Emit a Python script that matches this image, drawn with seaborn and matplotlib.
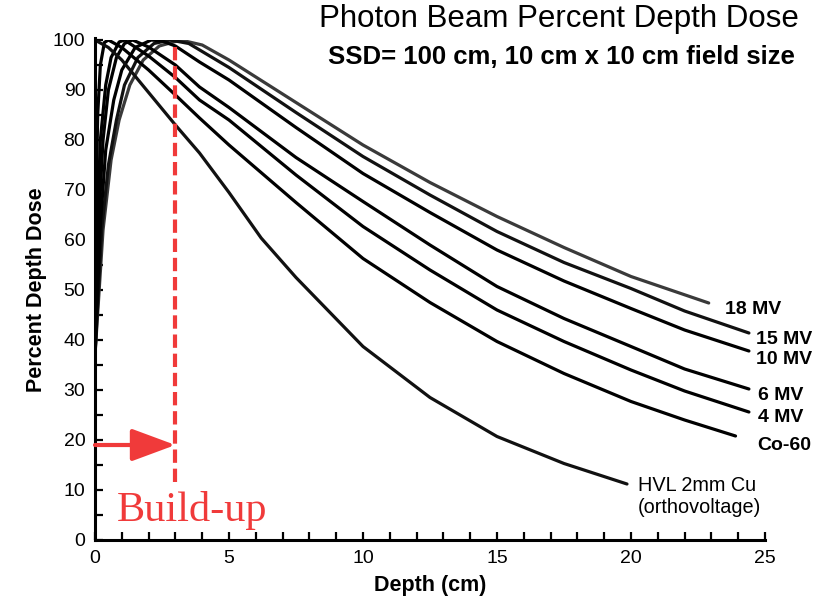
import numpy as np
import pandas as pd
import matplotlib
matplotlib.use("Agg")
import matplotlib.pyplot as plt
import seaborn as sns

# ---- data ----
mv18_depth = [0, 0.3, 0.6, 0.9, 1.3, 1.8, 2.4, 3.2, 4.0, 5.0, 7.5, 10, 12.5, 15, 17.5, 20, 22.9]
mv18_dose  = [37, 62, 76, 84, 91, 96, 98.8, 100, 99, 96, 87.5, 79, 71.5, 64.7, 58.5, 52.7, 47.4]

mv15_depth = [0, 0.25, 0.5, 0.8, 1.1, 1.6, 2.2, 2.8, 3.5, 5.0, 7.5, 10, 12.5, 15, 17.5, 20, 22, 24.4]
mv15_dose  = [37, 62, 75, 84, 91, 96.5, 99.3, 100, 99.3, 94.5, 85.5, 76.7, 69, 61.7, 55.5, 50.3, 45.8, 41.4]

mv10_depth = [0, 0.2, 0.4, 0.7, 1.0, 1.5, 2.1, 2.5, 3.0, 3.9, 5.0, 7.5, 10, 12.5, 15, 17.5, 20, 22, 24.4]
mv10_dose  = [37, 63, 78, 88, 94, 98.5, 100, 99.8, 98.8, 95.6, 92, 82.5, 73.3, 65.5, 58, 51.8, 46.3, 42, 37.8]

mv6_depth = [0, 0.15, 0.3, 0.5, 0.8, 1.1, 1.4, 2.0, 3.0, 3.9, 5.0, 7.5, 10, 12.5, 15, 17.5, 20, 22, 24.4]
mv6_dose  = [38, 65, 80, 90, 96.5, 99.3, 100, 98.6, 95, 90.6, 86.5, 76.5, 67.7, 59, 50.7, 44.3, 38.7, 34.2, 30.2]

mv4_depth = [0, 0.1, 0.2, 0.4, 0.6, 0.9, 1.1, 2.0, 3.0, 3.9, 5.0, 7.5, 10, 12.5, 15, 17.5, 20, 22, 24.4]
mv4_dose  = [40, 65, 80, 91, 96.5, 99.6, 100, 96.8, 92.5, 88, 84, 73, 62.7, 54, 46, 39.7, 34, 29.8, 25.6]

co60_depth = [0, 0.05, 0.1, 0.2, 0.35, 0.5, 1.0, 2.0, 3.0, 3.9, 5.0, 7.5, 10, 12.5, 15, 17.5, 20, 22, 23.9]
co60_dose  = [45, 70, 85, 95, 99.5, 100, 98.5, 94, 89, 84.4, 79, 67.5, 56.3, 47.5, 39.7, 33.3, 27.7, 24, 20.8]

hvl_depth = [0, 0.5, 1.0, 2.0, 3.0, 3.9, 5.0, 6.2, 7.5, 10, 12.5, 15, 17.5, 19.85]
hvl_dose  = [100, 98.5, 96, 89.5, 83, 77.4, 69.5, 60.4, 52.5, 38.7, 28.5, 20.7, 15.3, 11.2]

series_names = ["18 MV", "15 MV", "10 MV", "6 MV", "4 MV", "Co-60", "HVL 2mm Cu"]
x_ticks = [0, 5, 10, 15, 20, 25]
y_ticks = [0, 10, 20, 30, 40, 50, 60, 70, 80, 90, 100]

buildup_depth = 3.0
buildup_top = 99.6
buildup_bottom = 11.6
arrow_level = 19

depths = [mv18_depth, mv15_depth, mv10_depth, mv6_depth, mv4_depth, co60_depth, hvl_depth]
doses = [mv18_dose, mv15_dose, mv10_dose, mv6_dose, mv4_dose, co60_dose, hvl_dose]
frames = [pd.DataFrame({"Depth": d, "Dose": v, "Beam": n}) for d, v, n in zip(depths, doses, series_names)]
df = pd.concat(frames, ignore_index=True)

# ---- style ----
sns.set_theme(style="white")
plt.rcParams["font.family"] = ["Liberation Sans", "DejaVu Sans"]

fig = plt.figure(figsize=(8.13, 6.0), dpi=100)
ax = fig.add_axes([95 / 813, 60 / 600, 670 / 813, 500 / 600])

palette = {"18 MV": "#3a3a3a", "15 MV": "#111111", "10 MV": "#000000", "6 MV": "#000000",
           "4 MV": "#000000", "Co-60": "#000000", "HVL 2mm Cu": "#111111"}
sns.lineplot(data=df, x="Depth", y="Dose", hue="Beam", palette=palette, sort=False,
             estimator=None, linewidth=2.3, legend=False, ax=ax)

ax.set_xlim(0, 25)
ax.set_ylim(0, 100)
ax.set_xticks(x_ticks)
ax.set_yticks(y_ticks)
ax.set_xticks(np.arange(0, 25.01, 1), minor=True)
ax.set_yticks(np.arange(0, 100.01, 5), minor=True)
ax.tick_params(axis="both", which="both", direction="in", length=6, width=1.6, color="black",
               bottom=True, left=True)
ax.tick_params(axis="both", which="major", labelsize=14, pad=7, labelcolor="black")
ax.set_xticklabels([str(t) for t in x_ticks])
ax.set_yticklabels([str(t) for t in y_ticks])

for s in ["top", "right"]:
    ax.spines[s].set_visible(False)
for s in ["left", "bottom"]:
    ax.spines[s].set_color("black")
    ax.spines[s].set_linewidth(2.2)
ax.spines["left"].set_bounds(0, 100.5)

ax.set_xlabel("Depth (cm)", fontsize=15.5, fontweight="bold", color="black", labelpad=6)
ax.set_ylabel("Percent Depth Dose", fontsize=15.5, fontweight="bold", color="black", labelpad=4)

# curve labels
lab_kw = dict(fontsize=14, fontweight="bold", color="black", va="center", ha="left",
              clip_on=False, transform=ax.transData)
ax.text(23.5, 46.0, "18 MV", **lab_kw)
ax.text(24.65, 40.2, "15 MV", **lab_kw)
ax.text(24.65, 36.2, "10 MV", **lab_kw)
ax.text(24.75, 29.0, "6 MV", **lab_kw)
ax.text(24.75, 24.4, "4 MV", **lab_kw)
ax.text(24.7, 18.8, "Co-60", **lab_kw)
ax.text(20.25, 8.7, "HVL 2mm Cu\n(orthovoltage)", fontsize=14.3, color="black", va="center",
        ha="left", linespacing=1.2)

# build-up marker
red = "#f03a3a"
ax.plot([buildup_depth, buildup_depth], [buildup_bottom, buildup_top], color=red, lw=3,
        linestyle=(0, (3.2, 1.4)), solid_capstyle="butt")
ax.annotate("", xy=(buildup_depth, arrow_level), xytext=(0, arrow_level),
            arrowprops=dict(arrowstyle="-|>,head_length=2.7,head_width=1.0", color=red,
                            lw=3, shrinkA=0, shrinkB=0, mutation_scale=10),
            annotation_clip=False)
ax.text(0.8, 6.0, "Build-up", fontsize=30.5, color=red, family=["Liberation Serif", "DejaVu Serif"],
        va="center", ha="left")

# titles
fig.text(799 / 813, 1 - 19 / 600, "Photon Beam Percent Depth Dose", fontsize=22.5, color="black",
         ha="right", va="center")
fig.text(795 / 813, 1 - 57 / 600, "SSD= 100 cm, 10 cm x 10 cm field size", fontsize=18.5,
         fontweight="bold", color="black", ha="right", va="center")

fig.savefig("out.png", dpi=100, facecolor="white")
